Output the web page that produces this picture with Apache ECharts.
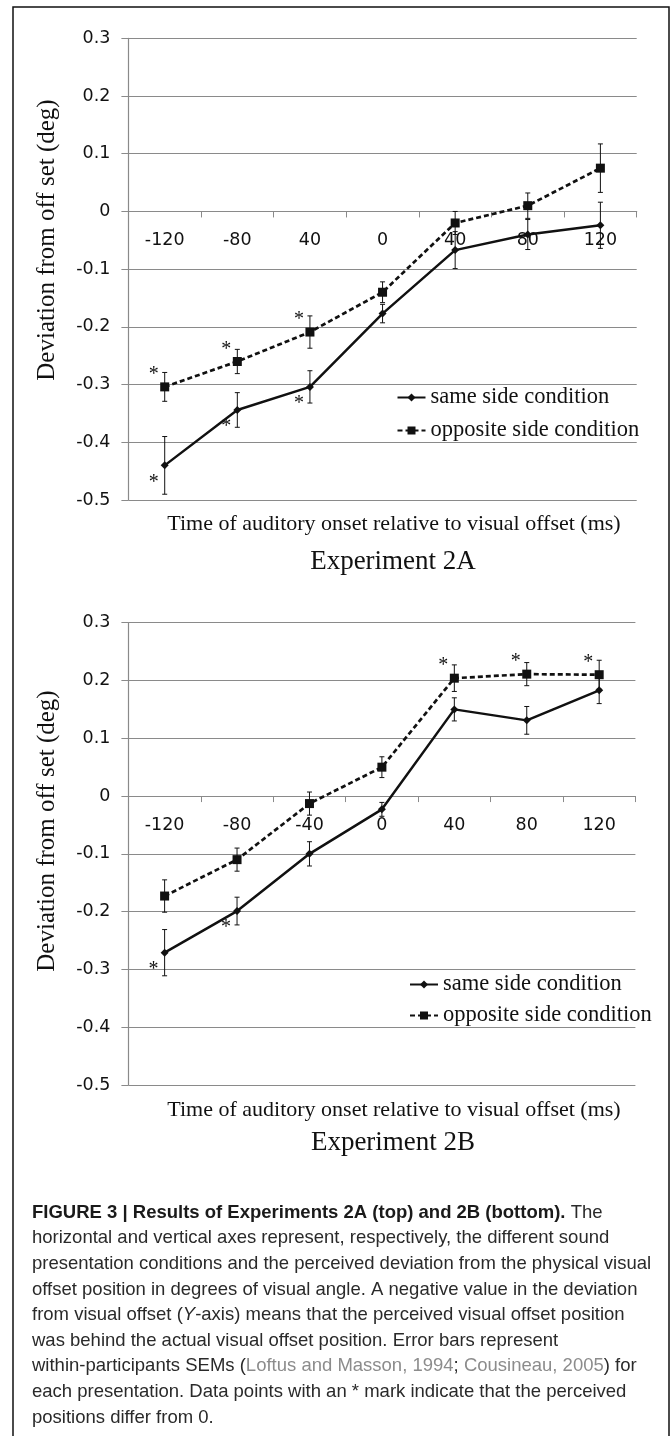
<!DOCTYPE html>
<html>
<head>
<meta charset="utf-8">
<script src="https://cdn.jsdelivr.net/npm/echarts@6/dist/echarts.min.js"></script>
<style>
  html, body { margin: 0; padding: 0; background: #fff; }
  #chart { width: 671px; height: 1436px; }
</style>
</head>
<body>
<div id="chart"></div>
<script>
// x categories (the top panel really labels -40 as "40")
var cats2A = ['-120', '-80', '40', '0', '40', '80', '120'];
var cats2B = ['-120', '-80', '-40', '0', '40', '80', '120'];
var yTicks = { min: -0.5, max: 0.3, interval: 0.1 };

// Experiment 2A
var same2A = [-0.44, -0.344, -0.304, -0.177, -0.067, -0.04, -0.024];
var same2AErr = [0.05, 0.03, 0.028, 0.016, 0.032, 0.026, 0.04];
var opp2A = [-0.304, -0.26, -0.209, -0.14, -0.02, 0.01, 0.075];
var opp2AErr = [0.025, 0.021, 0.028, 0.018, 0.02, 0.022, 0.042];
var same2ASig = [1, 1, 1, 0, 0, 0, 0];
var opp2ASig = [1, 1, 1, 0, 0, 0, 0];

// Experiment 2B
var same2B = [-0.271, -0.199, -0.1, -0.023, 0.15, 0.131, 0.183];
var same2BErr = [0.04, 0.024, 0.021, 0.012, 0.02, 0.024, 0.023];
var opp2B = [-0.173, -0.11, -0.013, 0.05, 0.204, 0.211, 0.21];
var opp2BErr = [0.028, 0.02, 0.02, 0.018, 0.023, 0.02, 0.025];
var same2BSig = [1, 1, 0, 0, 0, 0, 0];
var opp2BSig = [0, 0, 0, 0, 1, 1, 1];

var SERIF = '"Liberation Serif", "Times New Roman", serif';
var SANS = '"DejaVu Sans", sans-serif';
var CAP = '"Liberation Sans", Arial, sans-serif';
var GRID_COLOR = '#8a8a8a';
var PAGE_H = 1436;

var myChart = echarts.init(document.getElementById('chart'));

function errRender(params, api) {
  var i = api.value(0), v = api.value(1), e = api.value(2);
  var hi = api.coord([i, v + e]);
  var lo = api.coord([i, v - e]);
  var w = 2.5;
  var st = { stroke: '#111', lineWidth: 1 };
  return {
    type: 'group',
    children: [
      { type: 'line', shape: { x1: hi[0], y1: hi[1], x2: lo[0], y2: lo[1] }, style: st },
      { type: 'line', shape: { x1: hi[0] - w, y1: hi[1], x2: hi[0] + w, y2: hi[1] }, style: st },
      { type: 'line', shape: { x1: lo[0] - w, y1: lo[1], x2: lo[0] + w, y2: lo[1] }, style: st }
    ]
  };
}

// asterisks: side 1 = above-left of the point, -1 = below-left
function starRender(params, api) {
  var p = api.coord([api.value(0), api.value(1)]);
  var side = api.value(2);
  return {
    type: 'text',
    style: {
      text: '*',
      x: p[0] - 11,
      y: side > 0 ? p[1] - 12 : p[1] + 17,
      align: 'center',
      verticalAlign: 'middle',
      fontFamily: SERIF,
      fontSize: 20,
      fill: '#111'
    }
  };
}

function withErr(vals, errs) {
  return vals.map(function (v, i) { return [i, v, errs[i]]; });
}

function stars(vals, sig, side) {
  var out = [];
  vals.forEach(function (v, i) { if (sig[i]) out.push([i, v, side]); });
  return out;
}

var grids = [
  { left: 128.4, right: 34.3, top: 38.3, bottom: 936 },
  { left: 128.4, right: 35.6, top: 622.7, bottom: 351 }
];

// the category axis sits on y = 0, so shift it up from the grid bottom
function zeroOffset(g) {
  var h = PAGE_H - g.top - g.bottom;
  return -h * (0 - yTicks.min) / (yTicks.max - yTicks.min);
}

function xAxisFor(idx, cats) {
  return {
    type: 'category',
    gridIndex: idx,
    data: cats,
    position: 'bottom',
    offset: zeroOffset(grids[idx]),
    axisLine: { onZero: false, lineStyle: { color: GRID_COLOR, width: 1.2 } },
    axisTick: { show: true, length: 6, lineStyle: { color: GRID_COLOR } },
    axisLabel: { margin: 20, color: '#111', fontFamily: SANS, fontSize: 17.5 },
    splitLine: { show: false }
  };
}

function yAxisFor(idx) {
  return {
    type: 'value',
    gridIndex: idx,
    min: yTicks.min,
    max: yTicks.max,
    interval: yTicks.interval,
    axisLine: { show: true, lineStyle: { color: GRID_COLOR, width: 1.2 } },
    axisTick: { show: true, length: 7, lineStyle: { color: GRID_COLOR } },
    axisLabel: {
      margin: 18, color: '#111', fontFamily: SANS, fontSize: 17.5,
      formatter: function (v) { return String(Math.round(v * 10) / 10); }
    },
    splitLine: { show: true, lineStyle: { color: GRID_COLOR, width: 1.2 } }
  };
}

function panelSeries(idx, same, sameErr, opp, oppErr, sameSig, oppSig) {
  return [
    {
      name: 'same side condition', type: 'line', xAxisIndex: idx, yAxisIndex: idx,
      data: same, symbol: 'diamond', symbolSize: 8, z: 4,
      itemStyle: { color: '#111' },
      lineStyle: { color: '#111', width: 2.5 }
    },
    {
      name: 'opposite side condition', type: 'line', xAxisIndex: idx, yAxisIndex: idx,
      data: opp, symbol: 'rect', symbolSize: 9, z: 4,
      itemStyle: { color: '#111' },
      lineStyle: { color: '#111', width: 2.7, type: [5, 3] }
    },
    {
      type: 'custom', xAxisIndex: idx, yAxisIndex: idx, z: 3,
      renderItem: errRender, encode: { x: 0, y: 1 },
      data: withErr(same, sameErr)
    },
    {
      type: 'custom', xAxisIndex: idx, yAxisIndex: idx, z: 3,
      renderItem: errRender, encode: { x: 0, y: 1 },
      data: withErr(opp, oppErr)
    },
    {
      type: 'custom', xAxisIndex: idx, yAxisIndex: idx, z: 5,
      renderItem: starRender, encode: { x: 0, y: 1 },
      data: stars(same, sameSig, -1).concat(stars(opp, oppSig, 1))
    }
  ];
}

function legendAt(left, top, gap) {
  return {
    orient: 'vertical',
    left: left,
    top: top,
    itemWidth: 28,
    itemHeight: 10,
    itemGap: gap,
    selectedMode: false,
    data: ['same side condition', 'opposite side condition'],
    textStyle: { fontFamily: SERIF, fontSize: 22.5, color: '#111' }
  };
}

function serifText(x, y, text, size, rot) {
  return {
    type: 'text', x: x, y: y, rotation: rot || 0,
    style: {
      text: text, align: 'center', verticalAlign: 'middle',
      fontFamily: SERIF, fontSize: size, fill: '#111'
    }
  };
}

var capRich = {
  b: { fontFamily: CAP, fontWeight: 'bold', fontSize: 18.5, fill: '#1a1a1a', lineHeight: 25.6 },
  n: { fontFamily: CAP, fontSize: 18.5, fill: '#2a2a2a', lineHeight: 25.6 },
  i: { fontFamily: CAP, fontSize: 18.5, fontStyle: 'italic', fill: '#2a2a2a', lineHeight: 25.6 },
  g: { fontFamily: CAP, fontSize: 18.5, fill: '#8c8c8c', lineHeight: 25.6 }
};

var capText = [
  '{b|FIGURE 3 | Results of Experiments 2A (top) and 2B (bottom).}{n| The}',
  '{n|horizontal and vertical axes represent, respectively, the different sound}',
  '{n|presentation conditions and the perceived deviation from the physical visual}',
  '{n|offset position in degrees of visual angle. A negative value in the deviation}',
  '{n|from visual offset (}{i|Y}{n|-axis) means that the perceived visual offset position}',
  '{n|was behind the actual visual offset position. Error bars represent}',
  '{n|within-participants SEMs (}{g|Loftus and Masson, 1994}{n|; }{g|Cousineau, 2005}{n|) for}',
  '{n|each presentation. Data points with an * mark indicate that the perceived}',
  '{n|positions differ from 0.}'
].join('\n');

var option = {
  animation: false,
  backgroundColor: '#fff',
  grid: grids,
  xAxis: [xAxisFor(0, cats2A), xAxisFor(1, cats2B)],
  yAxis: [yAxisFor(0), yAxisFor(1)],
  legend: [legendAt(391.5, 381, 10), legendAt(404, 968, 8)],
  series: panelSeries(0, same2A, same2AErr, opp2A, opp2AErr, same2ASig, opp2ASig)
    .concat(panelSeries(1, same2B, same2BErr, opp2B, opp2BErr, same2BSig, opp2BSig)),
  graphic: [
    {
      type: 'rect', z: 0,
      shape: { x: 13, y: 7, width: 656, height: 1460 },
      style: { fill: 'none', stroke: '#111', lineWidth: 1.5 }
    },
    serifText(47, 240, 'Deviation from off set (deg)', 25, Math.PI / 2),
    serifText(394, 524, 'Time of auditory onset relative to visual offset (ms)', 22),
    serifText(393, 562, 'Experiment 2A', 27),
    serifText(47, 831, 'Deviation from off set (deg)', 25, Math.PI / 2),
    serifText(394, 1110, 'Time of auditory onset relative to visual offset (ms)', 22),
    serifText(393, 1143, 'Experiment 2B', 27),
    {
      type: 'text', x: 32, y: 1200,
      style: { text: capText, rich: capRich, align: 'left', verticalAlign: 'top' }
    }
  ]
};

myChart.setOption(option);

window.addEventListener('resize', function () {
  myChart.resize();
});
</script>
</body>
</html>
